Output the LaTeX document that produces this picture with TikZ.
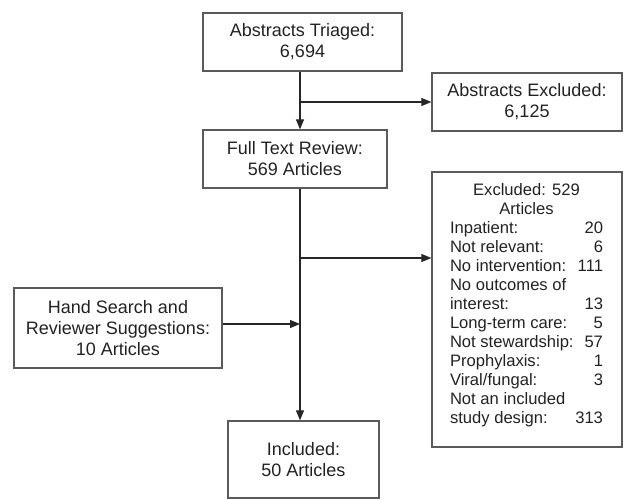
\documentclass[tikz,border=0pt]{standalone}
\usepackage{fontspec}
\setmainfont{Liberation Sans}
\usetikzlibrary{arrows.meta}
\definecolor{boxgray}{HTML}{5A5A5A}
\definecolor{txt}{HTML}{222222}
\newcommand{\exrow}[2]{\hbox to 153pt{#1\hfill #2}}
\begin{document}
\begin{tikzpicture}[x=1pt,y=1pt,
  boxnode/.style={draw=boxgray, line width=1.3pt, inner sep=0pt, align=center,
    font=\fontsize{18}{21}\selectfont, text=txt},
  conn/.style={draw=black!85, line width=1.1pt},
  arr/.style={conn, -{Triangle[length=10pt,width=8pt]}}]
\useasboundingbox (0,0) rectangle (623,-500);
\node[boxnode, minimum width=199pt, minimum height=58pt] (A) at (302.5,-42) {Abstracts Triaged:\\6,694};
\node[boxnode, minimum width=190pt, minimum height=58pt] (B) at (527,-102) {Abstracts Excluded:\\6,125};
\node[boxnode, minimum width=184pt, minimum height=58pt] (C) at (295,-159) {Full Text Review:\\569 Articles};
\node[boxnode, minimum width=190pt, minimum height=275pt] (D) at (527,-309.5) {};
\node[boxnode, minimum width=208pt, minimum height=80pt] (E) at (118,-328) {Hand Search and\\Reviewer Suggestions:\\10 Articles};
\node[boxnode, minimum width=151pt, minimum height=77pt] (F) at (303.5,-459.5) {Included:\\50 Articles};
\node[anchor=north, inner sep=0pt, font=\fontsize{16.6}{19}\selectfont, text=txt] (Dtext) at (526.5,-181.5)
{\begin{tabular}{@{}c@{}}
Excluded: 529\\
Articles\\
\exrow{Inpatient:}{20}\\
\exrow{Not relevant:}{6}\\
\exrow{No intervention:}{111}\\
\exrow{No outcomes of}{}\\
\exrow{interest:}{13}\\
\exrow{Long-term care:}{5}\\
\exrow{Not stewardship:}{57}\\
\exrow{Prophylaxis:}{1}\\
\exrow{Viral/fungal:}{3}\\
\exrow{Not an included}{}\\
\exrow{study design:}{313}
\end{tabular}};
\coordinate (xl) at (300,0);
\coordinate (j1) at (300,-102);
\coordinate (j2) at (300,-258);
\coordinate (j3) at (300,-324);
\draw[arr] (A.south -| xl) -- (C.north -| xl);
\draw[arr] (j1) -- (B.west |- j1);
\draw[arr] (C.south -| xl) -- (F.north -| xl);
\draw[arr] (j2) -- (D.west |- j2);
\draw[arr] (E.east |- j3) -- (j3);
\end{tikzpicture}
\end{document}
